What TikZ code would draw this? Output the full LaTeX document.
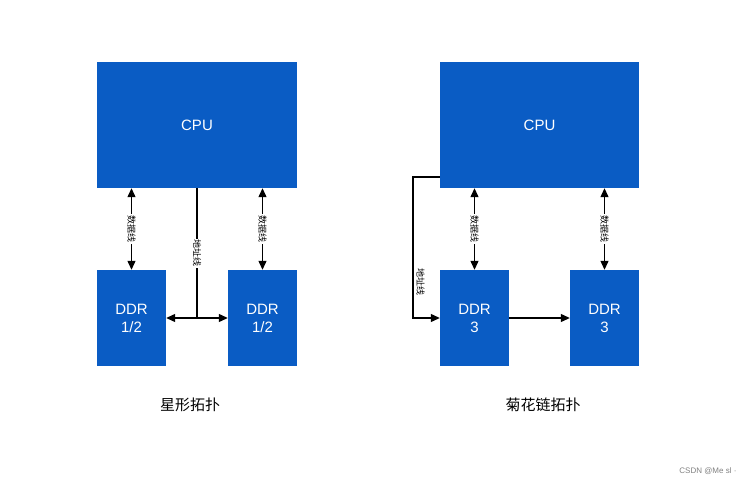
\documentclass[tikz,border=0pt]{standalone}
\usepackage{fontspec}
\setmainfont{Liberation Sans}
\newfontfamily\cjk{Noto Sans CJK SC}
\usetikzlibrary{arrows.meta}
\definecolor{blk}{HTML}{0A5CC4}
\begin{document}
\begin{tikzpicture}[x=1pt,y=-1pt,
  box/.style={fill=blk,draw=none,text=white,inner sep=0,font=\fontsize{15}{18}\selectfont,align=center},
  con/.style={line width=1.2pt,-{Triangle[length=9pt,width=8pt]}},
  bcon/.style={line width=1.2pt,{Triangle[length=9pt,width=8pt]}-{Triangle[length=9pt,width=8pt]}},
  lab/.style={fill=white,inner sep=1pt,font=\cjk\fontsize{9}{10}\selectfont,rotate=-90}]
\useasboundingbox (0,0) rectangle (746,486);
\node[box,minimum width=200pt,minimum height=126pt] (cpu1) at (197,125) {CPU};
\node[box,minimum width=199pt,minimum height=126pt] (cpu2) at (539.5,125) {CPU};
\node[box,minimum width=69pt,minimum height=96pt] (d1) at (131.5,318) {DDR\\1/2};
\node[box,minimum width=69pt,minimum height=96pt] (d2) at (262.5,318) {DDR\\1/2};
\node[box,minimum width=69pt,minimum height=96pt] (d3) at (474.5,318) {DDR\\3};
\node[box,minimum width=69pt,minimum height=96pt] (d4) at (604.5,318) {DDR\\3};
% star
\draw[bcon] (cpu1.south -| d1.north) -- node[lab]{数据线} (d1.north);
\draw[bcon] (cpu1.south -| d2.north) -- node[lab]{数据线} (d2.north);
\coordinate (j) at (197,318);
\draw[line width=1.2pt] (cpu1.south) -- node[lab,pos=0.5]{地址线} (j);
\draw[con] (j) -- (d1.east);
\draw[con] (j) -- (d2.west);
% daisy
\draw[bcon] (cpu2.south -| d3.north) -- node[lab]{数据线} (d3.north);
\draw[bcon] (cpu2.south -| d4.north) -- node[lab]{数据线} (d4.north);
\coordinate (a1) at (413,177);
\coordinate (a2) at (413,318);
\draw[con] (cpu2.west |- a1) -- (a1) -- (a2) -- (d3.west);
\node[font=\cjk\fontsize{9}{10}\selectfont,rotate=-90,anchor=south] (al) at (413,282) {地址线};
\draw[con] (d3.east) -- (d4.west);
\node[font=\cjk\fontsize{15}{18}\selectfont] (c1) at (190,405) {星形拓扑};
\node[font=\cjk\fontsize{15}{18}\selectfont] (c2) at (543,405) {菊花链拓扑};
\node[font=\fontsize{8}{9}\selectfont,text=gray,anchor=east] (w) at (740,471) {CSDN @Me sl ·};
\end{tikzpicture}
\end{document}
